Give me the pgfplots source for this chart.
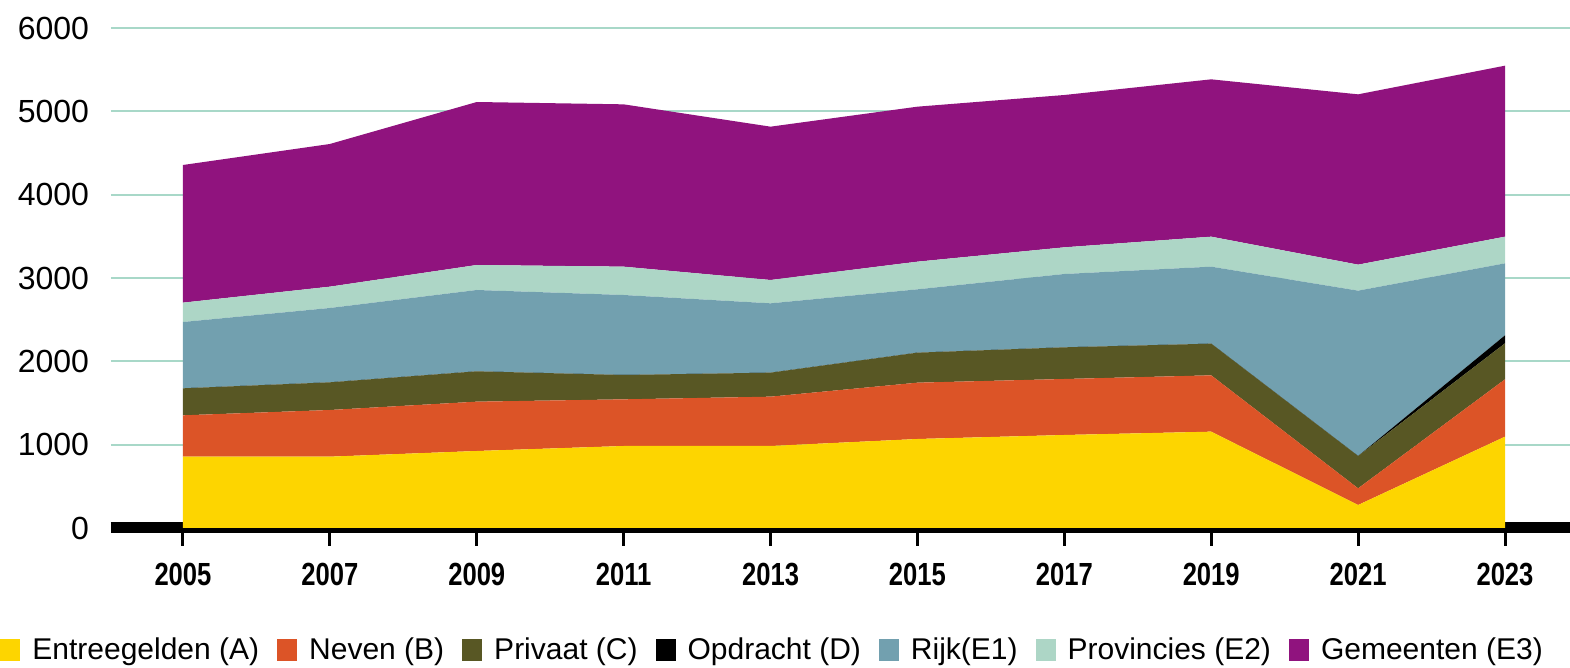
\documentclass[border=0pt]{standalone}
\usepackage{fontspec}
\setmainfont{Liberation Sans}
\newfontfamily\condfont[FakeStretch=0.8]{Liberation Sans}
\usepackage{pgfplots}
\usepackage{pgfplotstable}
\pgfplotsset{compat=1.18}
\definecolor{cA}{HTML}{FDD500}
\definecolor{cB}{HTML}{DC5427}
\definecolor{cC}{HTML}{585724}
\definecolor{cD}{HTML}{000000}
\definecolor{cE1}{HTML}{72A0AF}
\definecolor{cE2}{HTML}{ADD6C6}
\definecolor{cE3}{HTML}{90137E}
\definecolor{gridc}{HTML}{A8D8C8}
\pgfplotstableread{
year A B C D E1 E2 E3
2005 856 496 324 0 796 232 1652
2007 856 560 332 0 892 256 1712
2009 924 592 364 0 976 300 1956
2011 984 560 292 0 960 340 1948
2013 984 592 288 0 832 280 1840
2015 1068 676 360 0 760 332 1860
2017 1116 672 380 0 880 320 1828
2019 1156 676 380 0 924 360 1888
2021 276 200 388 0 1984 312 2044
2023 1096 688 432 96 864 320 2052
}\datatable
\begin{document}
\begin{tikzpicture}
\begin{axis}[
  scale only axis,
  width=729.5pt, height=250pt,
  xmin=2004.02, xmax=2023.885,
  ymin=0, ymax=6000,
  stack plots=y,
  axis x line*=bottom,
  axis y line*=left,
  x axis line style={line width=5.5pt, -},
  y axis line style={draw=none},
  xtick={2005,2007,...,2023},
  xticklabels={2005,2007,2009,2011,2013,2015,2017,2019,2021,2023},
  xticklabel style={font=\fontsize{16}{19}\condfont\bfseries, yshift=-5pt},
  tick align=outside,
  major tick length=9pt,
  xtick style={line width=1.5pt, black},
  ytick={0,1000,...,6000},
  ymajorgrids,
  grid style={line width=1pt, gridc},
  yticklabel style={font=\fontsize{16}{19}\selectfont, anchor=east, xshift=1.5pt},
  yticklabel={\pgfmathprintnumber[1000 sep={},assume math mode=true]{\tick}},
  ytick style={draw=none},
  clip=false,
  legend columns=-1,
  legend style={at={(0,0)}, anchor=west, xshift=-55.5pt, yshift=-61pt,
    draw=none, fill=none, inner sep=0pt, font=\fontsize{15}{18}\selectfont,
    /tikz/every odd column/.append style={column sep=6pt},
    /tikz/every even column/.append style={column sep=9pt},
    nodes={inner sep=0pt, anchor=west}},
  legend image code/.code={\fill[#1] (0pt,-5.5pt) rectangle (10pt,5.5pt);},
]
\addplot[fill=cA, draw=none] table[x=year, y=A]{\datatable} \closedcycle;
\addlegendentry{Entreegelden (A)}
\addplot[fill=cB, draw=none] table[x=year, y=B]{\datatable} \closedcycle;
\addlegendentry{Neven (B)}
\addplot[fill=cC, draw=none] table[x=year, y=C]{\datatable} \closedcycle;
\addlegendentry{Privaat (C)}
\addplot[fill=cD, draw=none] table[x=year, y=D]{\datatable} \closedcycle;
\addlegendentry{Opdracht (D)}
\addplot[fill=cE1, draw=none] table[x=year, y=E1]{\datatable} \closedcycle;
\addlegendentry{Rijk(E1)}
\addplot[fill=cE2, draw=none] table[x=year, y=E2]{\datatable} \closedcycle;
\addlegendentry{Provincies (E2)}
\addplot[fill=cE3, draw=none] table[x=year, y=E3]{\datatable} \closedcycle;
\addlegendentry{Gemeenten (E3)}
\draw[line width=5.5pt, black] (rel axis cs:0,0) -- (rel axis cs:1,0);
\end{axis}
\pgfresetboundingbox
\path[use as bounding box] ([xshift=-55.5pt, yshift=-70pt]current axis.south west) rectangle ([yshift=14pt]current axis.north east);
\end{tikzpicture}
\end{document}
